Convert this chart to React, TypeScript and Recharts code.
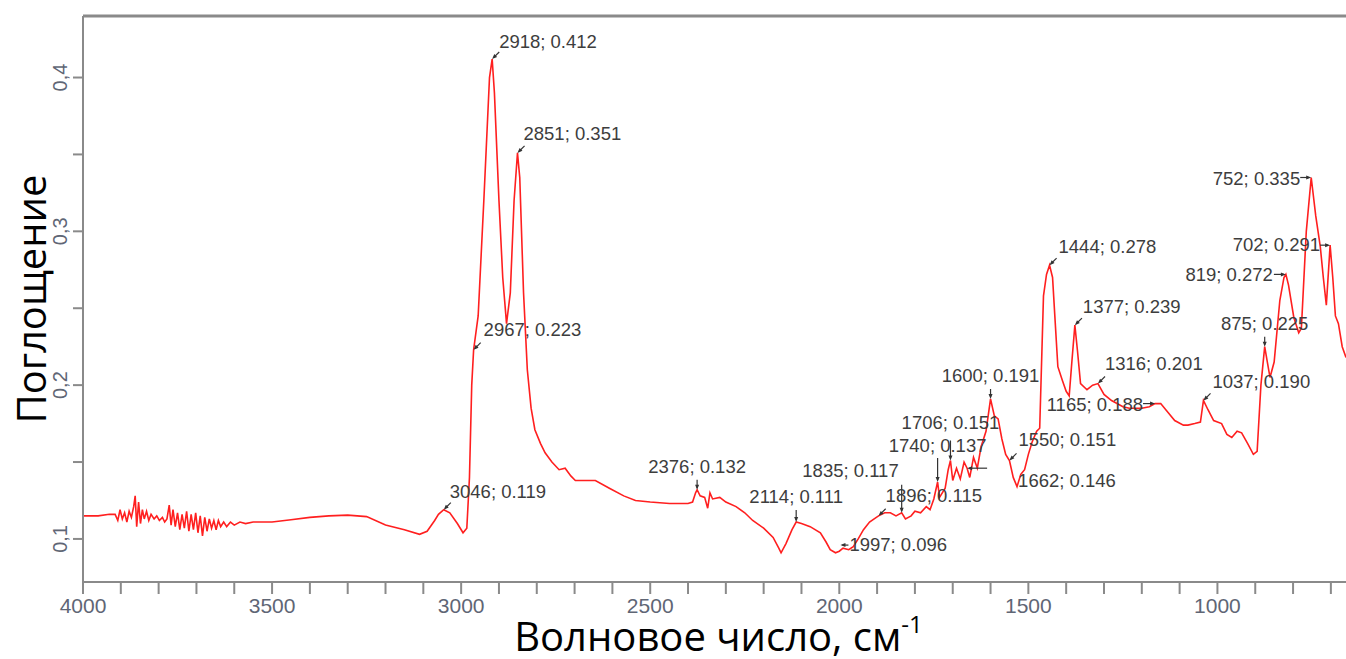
import React from "react";
import {
  ComposedChart,
  Line,
  Scatter,
  XAxis,
  YAxis,
  ReferenceLine,
} from "recharts";

// IR spectrum, wavenumber (cm-1) vs absorbance
const wavenumbers = [
  4000, 3960, 3930, 3915, 3908, 3902, 3896, 3890, 3884, 3878,
  3872, 3866, 3862, 3858, 3853, 3848, 3843, 3838, 3832, 3826,
  3820, 3812, 3805, 3798, 3790, 3784, 3778, 3772, 3767, 3762,
  3756, 3750, 3744, 3738, 3732, 3726, 3720, 3714, 3708, 3702,
  3696, 3690, 3684, 3678, 3672, 3666, 3660, 3654, 3648, 3642,
  3636, 3628, 3620, 3610, 3600, 3585, 3570, 3550, 3500, 3450,
  3400, 3350, 3300, 3250, 3200, 3150, 3110, 3090, 3070, 3060,
  3046, 3030, 3010, 2995, 2985, 2978, 2972, 2967, 2955, 2940,
  2925, 2918, 2912, 2900, 2890, 2880, 2870, 2860, 2851, 2845,
  2835, 2825, 2815, 2805, 2790, 2778, 2760, 2741, 2725, 2710,
  2698, 2670, 2645, 2608, 2570, 2539, 2500, 2449, 2400, 2388,
  2380, 2376, 2368, 2356, 2348, 2342, 2335, 2316, 2300, 2273,
  2250, 2229, 2200, 2175, 2160, 2154, 2141, 2125, 2114, 2100,
  2077, 2050, 2035, 2024, 2010, 2000, 1990, 1975, 1963, 1950,
  1936, 1920, 1902, 1896, 1880, 1865, 1850, 1835, 1825, 1810,
  1800, 1785, 1770, 1760, 1750, 1740, 1735, 1720, 1712, 1706,
  1700, 1690, 1680, 1670, 1662, 1655, 1645, 1635, 1625, 1612,
  1600, 1590, 1580, 1570, 1560, 1550, 1540, 1530, 1520, 1510,
  1500, 1490, 1478, 1470, 1465, 1460, 1452, 1444, 1436, 1430,
  1422, 1410, 1400, 1392, 1385, 1377, 1370, 1362, 1345, 1330,
  1316, 1300, 1280, 1250, 1233, 1200, 1180, 1165, 1150, 1130,
  1113, 1090, 1078, 1060, 1045, 1037, 1025, 1010, 989, 975,
  962, 948, 936, 920, 905, 895, 885, 875, 868, 861,
  850, 835, 824, 819, 812, 798, 785, 778, 765, 752,
  740, 728, 720, 712, 702, 695, 688, 680, 670, 660,
];

const absorbance = [
  0.115, 0.115, 0.116, 0.116, 0.112, 0.119, 0.113, 0.117, 0.111, 0.118,
  0.114, 0.121, 0.128, 0.108, 0.124, 0.110, 0.119, 0.113, 0.118, 0.112,
  0.116, 0.113, 0.115, 0.112, 0.114, 0.111, 0.113, 0.122, 0.109, 0.119,
  0.108, 0.117, 0.106, 0.116, 0.107, 0.118, 0.105, 0.116, 0.106, 0.117,
  0.104, 0.115, 0.102, 0.114, 0.105, 0.113, 0.107, 0.112, 0.106, 0.112,
  0.108, 0.111, 0.108, 0.111, 0.109, 0.111, 0.110, 0.111, 0.111, 0.1125,
  0.114, 0.115, 0.1155, 0.1145, 0.109, 0.106, 0.103, 0.105, 0.112, 0.116,
  0.119, 0.117, 0.110, 0.104, 0.107, 0.140, 0.200, 0.223, 0.245, 0.320,
  0.400, 0.412, 0.390, 0.320, 0.270, 0.240, 0.260, 0.320, 0.351, 0.335,
  0.260, 0.210, 0.185, 0.171, 0.162, 0.156, 0.150, 0.145, 0.146, 0.141,
  0.138, 0.138, 0.138, 0.133, 0.128, 0.125, 0.124, 0.123, 0.123, 0.124,
  0.130, 0.132, 0.128, 0.127, 0.120, 0.130, 0.126, 0.127, 0.124, 0.121,
  0.117, 0.112, 0.107, 0.101, 0.094, 0.091, 0.097, 0.106, 0.111, 0.110,
  0.108, 0.104, 0.098, 0.093, 0.091, 0.092, 0.094, 0.093, 0.095, 0.100,
  0.106, 0.111, 0.114, 0.115, 0.117, 0.117, 0.115, 0.117, 0.113, 0.115,
  0.118, 0.117, 0.121, 0.119, 0.126, 0.137, 0.127, 0.133, 0.145, 0.151,
  0.138, 0.146, 0.139, 0.150, 0.146, 0.140, 0.153, 0.146, 0.160, 0.170,
  0.191, 0.180, 0.178, 0.165, 0.155, 0.151, 0.140, 0.134, 0.142, 0.145,
  0.155, 0.163, 0.170, 0.172, 0.215, 0.258, 0.272, 0.278, 0.270, 0.245,
  0.212, 0.203, 0.196, 0.193, 0.215, 0.239, 0.222, 0.201, 0.197, 0.200,
  0.201, 0.194, 0.190, 0.186, 0.185, 0.185, 0.186, 0.188, 0.188, 0.182,
  0.177, 0.174, 0.174, 0.175, 0.176, 0.190, 0.184, 0.177, 0.175, 0.168,
  0.166, 0.170, 0.169, 0.162, 0.155, 0.157, 0.200, 0.225, 0.215, 0.205,
  0.215, 0.255, 0.270, 0.272, 0.265, 0.244, 0.234, 0.237, 0.300, 0.335,
  0.310, 0.290, 0.270, 0.252, 0.291, 0.270, 0.245, 0.240, 0.225, 0.218,
];

// labelled peaks
const peakWavenumbers = [
  3046, 2967, 2918, 2851, 2376, 2114, 1997, 1896, 1835, 1740, 1706, 1662,
  1600, 1550, 1444, 1377, 1316, 1165, 1037, 875, 819, 752, 702,
];
const peakValues = [
  0.119, 0.223, 0.412, 0.351, 0.132, 0.111, 0.096, 0.115, 0.117, 0.137, 0.151, 0.146,
  0.191, 0.151, 0.278, 0.239, 0.201, 0.188, 0.190, 0.225, 0.272, 0.335, 0.291,
];

// where each peak label sits: [arrow kind, arrow length, dx, dy, text anchor]
const labelLayout: [string, number, number, number, string][] = [
  ["d", 10, 6, -12, "start"],
  ["d", 10, 10, -14, "start"],
  ["d", 10, 7, -11.5, "start"],
  ["d", 10, 6, -12.5, "start"],
  ["u", 10, 0, -17, "middle"],
  ["u", 12, 0, -19, "middle"],
  ["r", 8, 9, 6, "start"],
  ["d", 10, 7, -14, "start"],
  ["u", 28, -3, -36, "end"],
  ["u", 24, 0, -30, "middle"],
  ["u", 20, 0, -31, "middle"],
  ["r", 20, 51, 19, "start"],
  ["u", 10, 0, -17, "middle"],
  ["d", 10, 9, -14, "start"],
  ["d", 10, 9, -12, "start"],
  ["d", 10, 8, -12, "start"],
  ["d", 10, 7, -14, "start"],
  ["l", 12, -12, 7, "end"],
  ["d", 10, 9, -13, "start"],
  ["u", 10, 0, -17, "middle"],
  ["l", 12, -13, 7, "end"],
  ["l", 11, -11, 8, "end"],
  ["l", 10, -10, 6, "end"],
];

const xTicks = [
  4000, 3900, 3800, 3700, 3600, 3500, 3400, 3300, 3200, 3100, 3000,
  2900, 2800, 2700, 2600, 2500, 2400, 2300, 2200, 2100, 2000,
  1900, 1800, 1700, 1600, 1500, 1400, 1300, 1200, 1100, 1000,
  900, 800, 700,
];
const xTickLabels = ["4000", "3500", "3000", "2500", "2000", "1500", "1000"];
const yTicks = [0.1, 0.15, 0.2, 0.25, 0.3, 0.35, 0.4];
const yTickLabels = ["0,1", "0,2", "0,3", "0,4"];

const spectrum = wavenumbers.map((w, i) => ({ w, a: absorbance[i] }));
const peaks = peakWavenumbers.map((w, i) => ({
  w,
  a: peakValues[i],
  text: `${w}; ${peakValues[i].toFixed(3)}`,
  layout: labelLayout[i],
}));

const AXIS = "#8a8a8a";
const TICK_TEXT = "#5f6675";

function PeakLabel(props: any) {
  const { cx, cy, payload } = props;
  if (cx == null || cy == null) return null;
  const [kind, len, dx, dy, anchor] = payload.layout;
  let ux = 0, uy = 0;
  if (kind === "d") { ux = 0.707; uy = -0.707; }
  if (kind === "u") { uy = -1; }
  if (kind === "l") { ux = -1; }
  if (kind === "r") { ux = 1; }
  const px = -uy, py = ux;
  const head = `${cx},${cy} ${cx + ux * 5 + px * 2},${cy + uy * 5 + py * 2} ${cx + ux * 5 - px * 2},${cy + uy * 5 - py * 2}`;
  return (
    <g>
      <line x1={cx + ux * 2} y1={cy + uy * 2} x2={cx + ux * len} y2={cy + uy * len} stroke="#333" strokeWidth={1.2} />
      <polygon points={head} fill="#333" />
      <text
        x={cx + dx}
        y={cy + dy}
        textAnchor={anchor}
        fontFamily="'Liberation Sans', Arial, sans-serif"
        fontSize={18.5}
        fill="#3d3d3d"
      >
        {payload.text}
      </text>
    </g>
  );
}

function YTick(props: any) {
  const { x, y, payload } = props;
  const label = yTickLabels.find((t) => Math.abs(parseFloat(t.replace(",", ".")) - payload.value) < 1e-6);
  if (!label) return null;
  return (
    <text
      transform={`translate(${x - 4},${y}) rotate(-90)`}
      textAnchor="middle"
      fontFamily="'Liberation Sans', Arial, sans-serif"
      fontSize={20}
      fill={TICK_TEXT}
    >
      {label}
    </text>
  );
}

function XTitle(props: any) {
  const { viewBox } = props;
  return (
    <text
      x={viewBox.x + viewBox.width / 2 + 4}
      y={651}
      textAnchor="middle"
      fontFamily="'Open Sans', sans-serif"
      fontSize={40}
      fill="#000"
    >
      Волновое число, см<tspan dy={-18} fontSize={24}>-1</tspan>
    </text>
  );
}

function YTitle(props: any) {
  const { viewBox } = props;
  const cy = viewBox.y + viewBox.height / 2;
  return (
    <text
      transform={`translate(46,${cy}) rotate(-90)`}
      textAnchor="middle"
      fontFamily="'Open Sans', sans-serif"
      fontSize={40}
      fill="#000"
    >
      Поглощение
    </text>
  );
}

export default function App() {
  return (
    <div style={{ position: "absolute", left: 0, top: 0, background: "#fff" }}>
      <ComposedChart width={1346} height={659} margin={{ top: 16, right: 0, bottom: 0, left: 0 }}>
        <XAxis
          dataKey="w"
          type="number"
          domain={[660, 4000]}
          reversed
          allowDataOverflow
          ticks={xTicks}
          interval={0}
          tickFormatter={(v: any) => (xTickLabels.includes(String(v)) ? String(v) : "")}
          tickSize={12}
          tickMargin={4}
          height={77}
          axisLine={{ stroke: AXIS, strokeWidth: 2 }}
          tickLine={{ stroke: AXIS, strokeWidth: 2 }}
          tick={{ fill: TICK_TEXT, fontSize: 21, fontFamily: "'Liberation Sans', Arial, sans-serif" }}
          label={<XTitle />}
        />
        <YAxis
          type="number"
          domain={[0.072, 0.44]}
          allowDataOverflow
          ticks={yTicks}
          interval={0}
          width={83}
          tickSize={10}
          tickMargin={2}
          axisLine={{ stroke: AXIS, strokeWidth: 2 }}
          tickLine={{ stroke: AXIS, strokeWidth: 2 }}
          tick={<YTick />}
          label={<YTitle />}
        />
        <ReferenceLine y={0.44} stroke={AXIS} strokeWidth={3} ifOverflow="visible" />
        <Line
          data={spectrum}
          dataKey="a"
          type="linear"
          stroke="#ff1f1f"
          strokeWidth={1.6}
          dot={false}
          isAnimationActive={false}
        />
        <Scatter data={peaks} dataKey="a" shape={<PeakLabel />} isAnimationActive={false} />
      </ComposedChart>
    </div>
  );
}
